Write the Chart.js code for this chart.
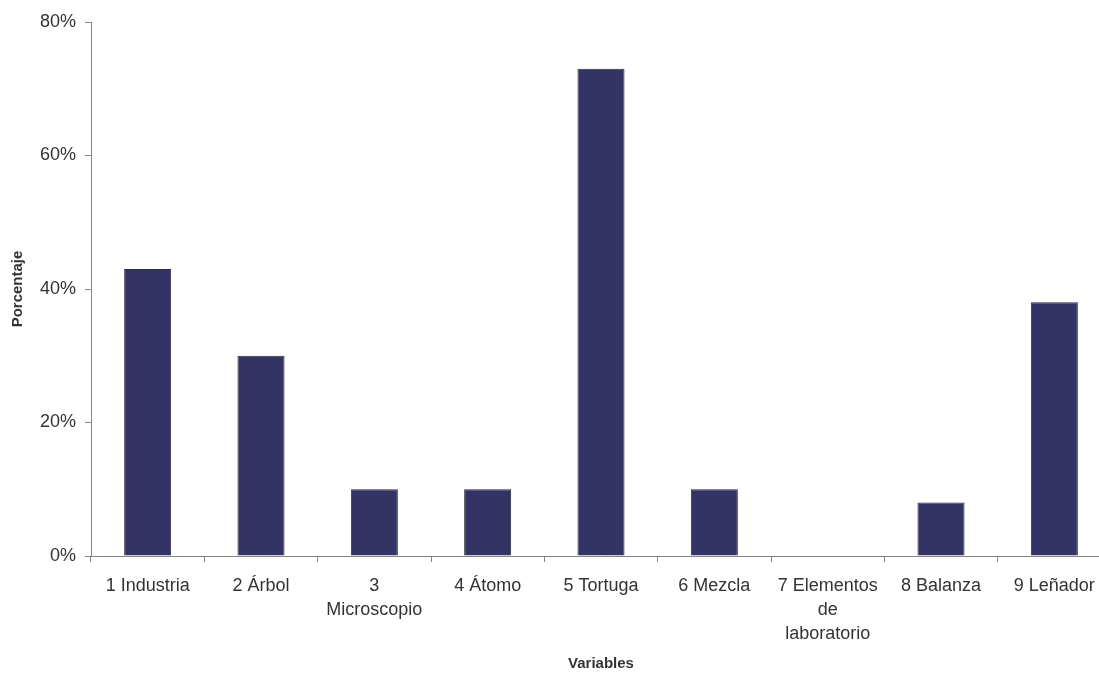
<!DOCTYPE html>
<html>
<head>
<meta charset="utf-8">
<script src="https://cdn.jsdelivr.net/npm/chart.js@4/dist/chart.umd.min.js"></script>
<style>
  html, body { margin: 0; padding: 0; background: #fff; overflow: hidden; }
  #wrap { width: 1120px; height: 673px; }
</style>
</head>
<body>
<div id="wrap"><canvas id="c" width="1120" height="673"></canvas></div>
<script>
// Categories (multi-line where the label wraps)
const categories = [
  '1 Industria',
  '2 Árbol',
  ['3', 'Microscopio'],
  '4 Átomo',
  '5 Tortuga',
  '6 Mezcla',
  ['7 Elementos', 'de', 'laboratorio'],
  '8 Balanza',
  '9 Leñador'
];
// Percentage per variable
const porcentaje = [43, 30, 10, 10, 73, 10, 0, 8, 38];
// Y axis tick values
const yTicks = [0, 20, 40, 60, 80];

const axisGray = '#868686';
const textColor = '#333333';
const fontFamily = '"Liberation Sans", Arial, sans-serif';

new Chart(document.getElementById('c'), {
  type: 'bar',
  data: {
    labels: categories,
    datasets: [{
      data: porcentaje,
      backgroundColor: '#333366',
      borderColor: '#2b2b3a',
      borderWidth: 1,
      borderSkipped: 'start',
      barPercentage: 0.415,
      categoryPercentage: 1
    }]
  },
  options: {
    responsive: false,
    animation: false,
    layout: { padding: { top: 22, right: 9, left: 0, bottom: 0 } },
    plugins: { legend: { display: false }, tooltip: { enabled: false } },
    scales: {
      x: {
        offset: true,
        grid: { display: true, drawOnChartArea: false, drawTicks: true, tickLength: 6, color: axisGray, offset: true },
        border: { display: true, color: axisGray, width: 1 },
        ticks: {
          color: textColor,
          font: { family: fontFamily, size: 18, lineHeight: 1.333 },
          padding: 12,
          maxRotation: 0,
          autoSkip: false
        },
        title: {
          display: true,
          text: 'Variables',
          color: textColor,
          font: { family: fontFamily, size: 15, weight: 'bold' },
          padding: { top: 0, bottom: 0 }
        },
        afterFit: (s) => { s.height = 117; }
      },
      y: {
        min: 0,
        max: 80,
        afterBuildTicks: (s) => { s.ticks = yTicks.map(v => ({ value: v })); },
        grid: { display: true, drawOnChartArea: false, drawTicks: true, tickLength: 6, color: axisGray },
        border: { display: true, color: axisGray, width: 1 },
        ticks: {
          color: textColor,
          font: { family: fontFamily, size: 18 },
          padding: 9,
          callback: (v) => v + '%'
        },
        title: {
          display: true,
          text: 'Porcentaje',
          color: textColor,
          font: { family: fontFamily, size: 15, weight: 'bold' },
          padding: { top: 9, bottom: 0 }
        },
        afterFit: (s) => { s.width = 91; }
      }
    }
  }
});
</script>
</body>
</html>
